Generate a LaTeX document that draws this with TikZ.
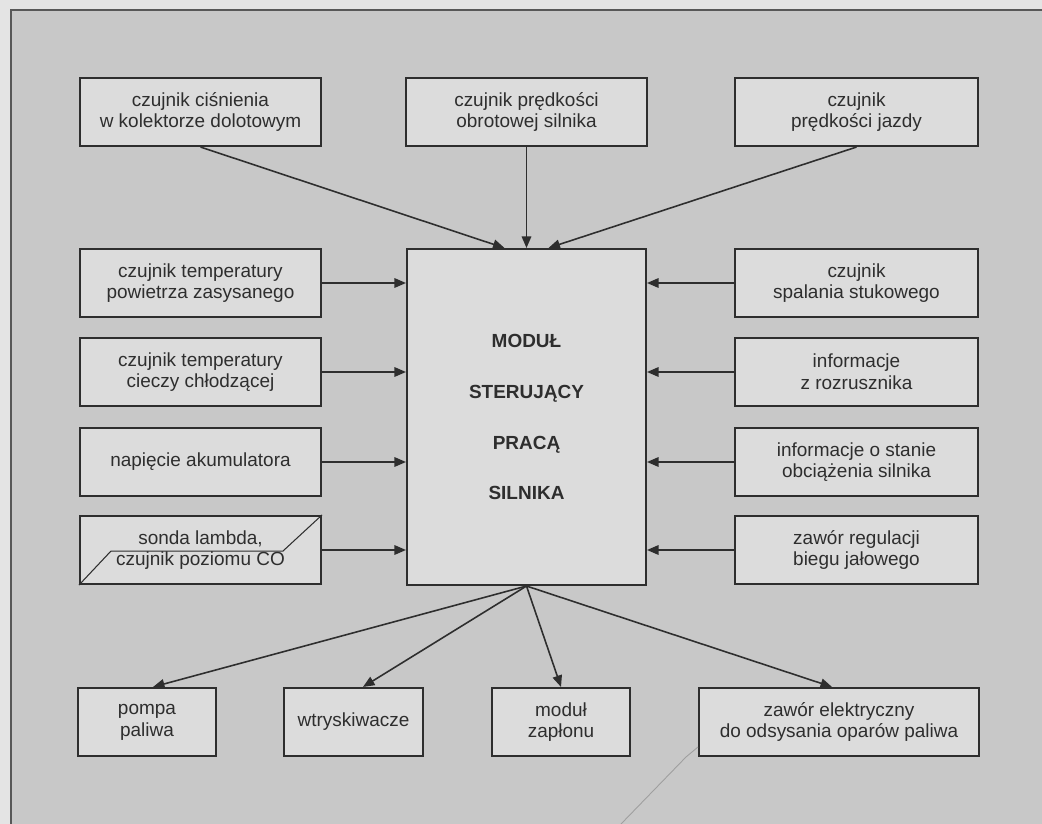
\documentclass[tikz,border=0pt]{standalone}
\usepackage{fontspec}
\setmainfont{Liberation Sans}
\usetikzlibrary{arrows.meta}
\definecolor{pagegray}{HTML}{E4E4E4}
\definecolor{panelgray}{HTML}{C8C8C8}
\definecolor{boxgray}{HTML}{DCDCDC}
\definecolor{inkgray}{HTML}{2E2E2E}
\tikzset{
  box/.style={draw=inkgray, fill=boxgray, line width=1.2pt, text=inkgray,
    align=center, minimum width=4.82cm, minimum height=1.36cm, inner sep=2pt,
    font=\fontsize{10.8}{12.4}\selectfont},
  ecubox/.style={box, minimum width=4.78cm, minimum height=6.72cm,
    font=\bfseries\fontsize{10.8}{29}\selectfont},
  signal/.style={draw=inkgray, line width=0.9pt,
    -{Triangle[length=2.3mm,width=1.9mm]}}
}

\begin{document}
\begin{tikzpicture}[x=0.02cm,y=-0.02cm]
    \useasboundingbox (0,0) rectangle (1042,824);

    % Background panel
    \fill[pagegray] (0,0) rectangle (1042,824);
    \fill[panelgray] (11,10) rectangle (1042,824);
    \draw[inkgray!80, line width=0.6pt] (11,824) -- (11,10) -- (1042,10);

    % Control module
    \node (ecu) [ecubox] at (526.5,417) {MODUŁ\\STERUJĄCY\\PRACĄ\\SILNIKA};

    % Sensors above
    \node (press) [box] at (200.5,112) {czujnik ciśnienia\\w kolektorze dolotowym};
    \node (rpm) [box] at (526.5,112) {czujnik prędkości\\obrotowej silnika};
    \node (speed) [box, minimum width=4.86cm] at (856.5,112) {czujnik\\prędkości jazdy};

    % Inputs on the left
    \node (airtemp) [box] at (200.5,283) {czujnik temperatury\\powietrza zasysanego};
    \node (cooltemp) [box] at (200.5,372) {czujnik temperatury\\cieczy chłodzącej};
    \node (battery) [box] at (200.5,462) {napięcie akumulatora};
    \node (lambda) [box] at (200.5,550) {sonda lambda,\\czujnik poziomu CO};
    \draw[inkgray, line width=0.6pt] (lambda.south west) -- ++(32,-34) -- ++(172,0) -- (lambda.north east);

    % Inputs on the right
    \node (knock) [box, minimum width=4.86cm] at (856.5,283) {czujnik\\spalania stukowego};
    \node (starter) [box, minimum width=4.86cm] at (856.5,372) {informacje\\z rozrusznika};
    \node (load) [box, minimum width=4.86cm] at (856.5,462) {informacje o stanie\\obciążenia silnika};
    \node (idle) [box, minimum width=4.86cm] at (856.5,550) {zawór regulacji\\biegu jałowego};

    % Actuators below
    \node (pump) [box, minimum width=2.76cm] at (147,722) {pompa\\paliwa};
    \node (inject) [box, minimum width=2.78cm] at (353.5,722) {wtryskiwacze};
    \node (ignition) [box, minimum width=2.76cm] at (561,722) {moduł\\zapłonu};
    \node (purge) [box, minimum width=5.6cm] at (839,722) {zawór elektryczny\\do odsysania oparów paliwa};

    % Signals into the module
    \draw[signal] (press.south) -- ([xshift=-4.4mm]ecu.north);
    \draw[signal] (rpm.south) -- (ecu.north);
    \draw[signal] (speed.south) -- ([xshift=4.4mm]ecu.north);
    \foreach \src in {airtemp,cooltemp,battery,lambda}
        \draw[signal] (\src.east) -- (\src.east -| ecu.west);
    \foreach \src in {knock,starter,load,idle}
        \draw[signal] (\src.west) -- (\src.west -| ecu.east);

    % Signals out of the module
    \draw[signal] (ecu.south) -- ([xshift=1.2mm]pump.north);
    \draw[signal] (ecu.south) -- ([xshift=1.9mm]inject.north);
    \draw[signal] (ecu.south) -- (ignition.north);
    \draw[signal] (ecu.south) -- ([xshift=-1.4mm]purge.north);

    % Leader line
    \draw[gray!75, line width=0.5pt] (698,747) -- (686,757) -- (621,824);
\end{tikzpicture}
\end{document}
